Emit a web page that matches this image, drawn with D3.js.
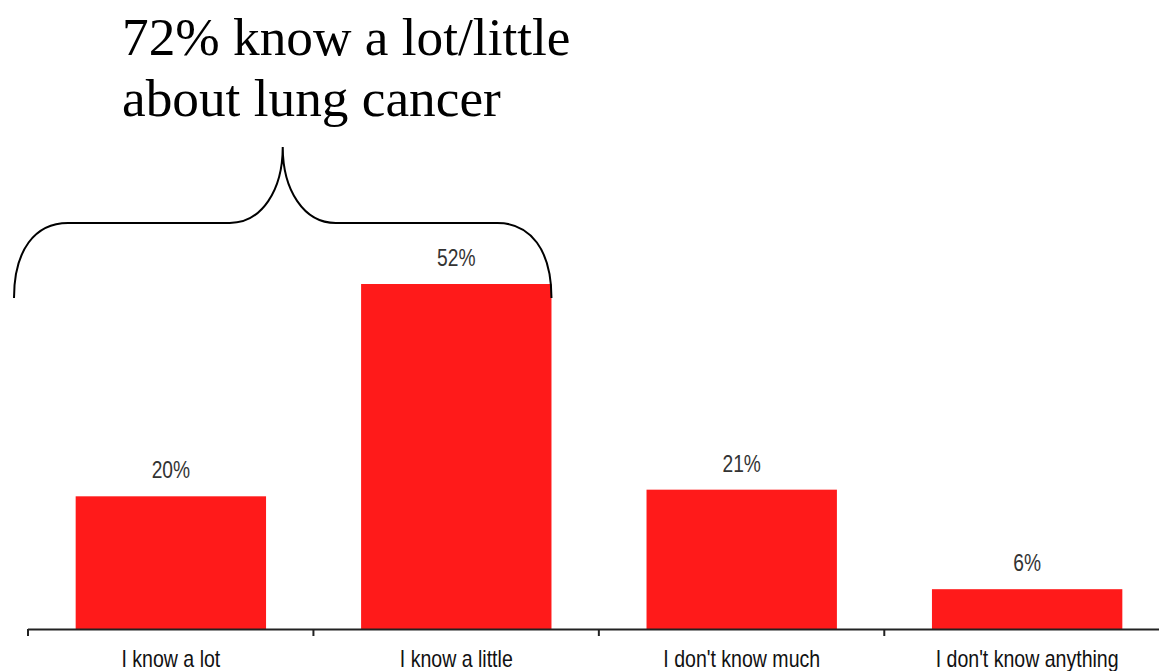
<!DOCTYPE html>
<html><head><meta charset="utf-8">
<script src="https://cdn.jsdelivr.net/npm/d3@7"></script>
<style>body{margin:0;background:#fff}svg{display:block}</style>
</head><body>
<svg id="c" width="1159" height="671"></svg>
<script>
const categories = ["I know a lot","I know a little","I don't know much","I don't know anything"];
const values = [20, 52, 21, 6];
const valueLabels = ["20%","52%","21%","6%"];
const titleLines = ["72% know a lot/little","about lung cancer"];

const svg = d3.select("#c");
const x = d3.scaleBand().domain(categories).range([28, 1170]).paddingInner(0.333).paddingOuter(0.167);
const y = d3.scaleLinear().domain([0, 52]).range([629, 284]);
const narrow = "'Liberation Sans Narrow','Arial Narrow','Liberation Sans',Arial,sans-serif";

svg.selectAll("rect.bar").data(values).enter().append("rect")
  .attr("x", (d,i)=>x(categories[i])).attr("width", x.bandwidth())
  .attr("y", d=>y(d)).attr("height", d=>y(0)-y(d)).attr("fill", "#ff1a1a");

svg.selectAll("text.val").data(values).enter().append("text")
  .attr("transform",(d,i)=>`translate(${x(categories[i])+x.bandwidth()/2},${y(d)-18}) scale(0.8,1)`)
  .attr("text-anchor","middle").attr("font-family",narrow)
  .attr("font-size",24).attr("fill","#333").text((d,i)=>valueLabels[i]);

// axis
const ticks = x.domain().map(c=>x(c)-x.step()*x.paddingOuter()).concat([x.range()[1]]);
svg.append("line").attr("x1",x.range()[0]).attr("x2",1159).attr("y1",y(0)+0.5).attr("y2",y(0)+0.5)
  .attr("stroke","#222").attr("stroke-width",2);
svg.selectAll("line.tick").data(ticks).enter().append("line")
  .attr("x1",d=>d).attr("x2",d=>d).attr("y1",y(0)).attr("y2",y(0)+7).attr("stroke","#222").attr("stroke-width",2);
svg.selectAll("text.cat").data(categories).enter().append("text")
  .attr("transform",d=>`translate(${x(d)+x.bandwidth()/2},667) scale(0.85,1)`).attr("text-anchor","middle")
  .attr("font-family",narrow).attr("font-size",23).attr("fill","#111").text(d=>d);

// title
svg.selectAll("text.title").data(titleLines).enter().append("text")
  .attr("x",122).attr("y",(d,i)=>55+i*61).attr("font-family","'Liberation Serif','Times New Roman',serif")
  .attr("font-size",53.3).attr("fill","#000").text(d=>d);

// brace
const bx0 = x.range()[0]-14, bx1 = x(categories[1])+x.bandwidth(), by = y(52)+14;
const mid = (bx0+bx1)/2, hy = by-75, ty = by-151;
const p = d3.path();
p.moveTo(bx0, by);
p.bezierCurveTo(bx0, by-48, bx0+21, hy, bx0+54, hy);
p.lineTo(mid-53, hy);
p.bezierCurveTo(mid-21, hy, mid, hy-33, mid, ty);
p.bezierCurveTo(mid, hy-33, mid+21, hy, mid+53, hy);
p.lineTo(bx1-54, hy);
p.bezierCurveTo(bx1-21, hy, bx1, by-48, bx1, by);
svg.append("path").attr("d", p.toString()).attr("fill","none").attr("stroke","#000").attr("stroke-width",2);
</script>
</body></html>
